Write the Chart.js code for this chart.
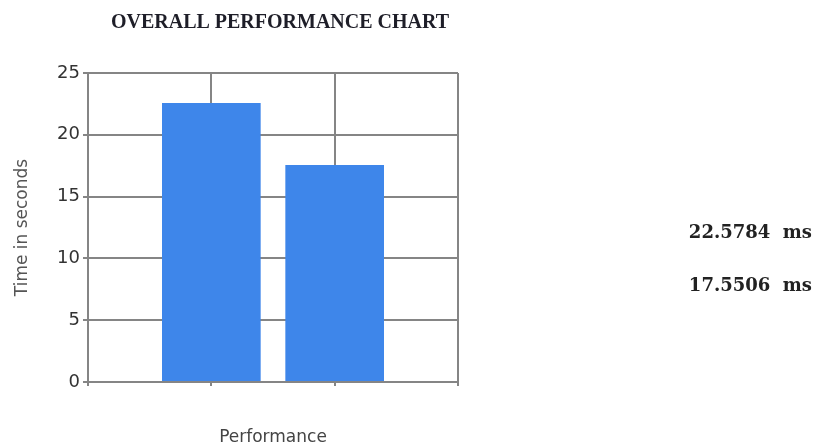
<!DOCTYPE html>
<html>
<head>
<meta charset="utf-8">
<script src="https://cdn.jsdelivr.net/npm/chart.js@4"></script>
<style>
  html, body { margin: 0; padding: 0; background: #fff; }
  #wrap { width: 818px; height: 448px; }
</style>
</head>
<body>
<div id="wrap"><canvas id="perfChart"></canvas></div>
<script>
// chart data
var chartTitle = 'OVERALL PERFORMANCE CHART';
var slots = ['', '', '', ''];              // bars sit on the two inner slots
var timings = [null, 22.5784, 17.5506, null];
var timingLabels = ['22.5784', '17.5506'];
var yTicks = [0, 5, 10, 15, 20, 25];

// draws the title and the values list on the right
var textPlugin = {
  id: 'textPlugin',
  afterDraw: function (chart) {
    var ctx = chart.ctx;
    ctx.save();
    ctx.fillStyle = '#1e1e28';
    ctx.textBaseline = 'middle';
    ctx.font = 'bold 20px "Liberation Serif"';
    ctx.textAlign = 'center';
    ctx.fillText(chartTitle, 280, 23);

    ctx.fillStyle = '#222';
    ctx.font = 'bold 18px "DejaVu Serif"';
    ctx.textAlign = 'right';
    timingLabels.forEach(function (t, i) {
      ctx.fillText(t + '  ms', 812, 233 + i * 53);
    });
    ctx.restore();
  }
};

var gridColor = '#858585';

var ctx = document.getElementById('perfChart').getContext('2d');
var perfChart = new Chart(ctx, {
  type: 'bar',
  data: {
    labels: slots,
    datasets: [{
      data: timings,
      backgroundColor: 'rgb(62, 134, 234)',
      categoryPercentage: 1,
      barPercentage: 0.8
    }]
  },
  options: {
    responsive: true,
    maintainAspectRatio: false,
    animation: false,
    layout: { padding: { top: 73, right: 360, left: 0, bottom: 0 } },
    plugins: {
      legend: { display: false },
      title: { display: false },
      tooltip: { enabled: false }
    },
    scales: {
      x: {
        offset: false,
        grid: { offset: false, color: gridColor, lineWidth: 2, tickLength: 4 },
        border: { display: false },
        ticks: { display: false },
        title: {
          display: true,
          text: 'Performance',
          color: '#444',
          font: { family: 'DejaVu Sans', size: 17 },
          padding: { top: 0, bottom: 0 }
        },
        afterFit: function (scale) { scale.height = 66; }
      },
      y: {
        min: 0,
        max: 25,
        afterBuildTicks: function (scale) {
          scale.ticks = yTicks.map(function (v) { return { value: v }; });
        },
        grid: { color: gridColor, lineWidth: 2, tickLength: 5 },
        border: { display: false },
        ticks: {
          color: '#333',
          padding: 3,
          font: { family: 'DejaVu Sans', size: 18 }
        },
        title: {
          display: true,
          text: 'Time in seconds',
          color: '#555',
          font: { family: 'DejaVu Sans', size: 17 },
          padding: { top: 12, bottom: 0 }
        },
        afterFit: function (scale) { scale.width = 88; }
      }
    }
  },
  plugins: [textPlugin]
});
</script>
</body>
</html>
